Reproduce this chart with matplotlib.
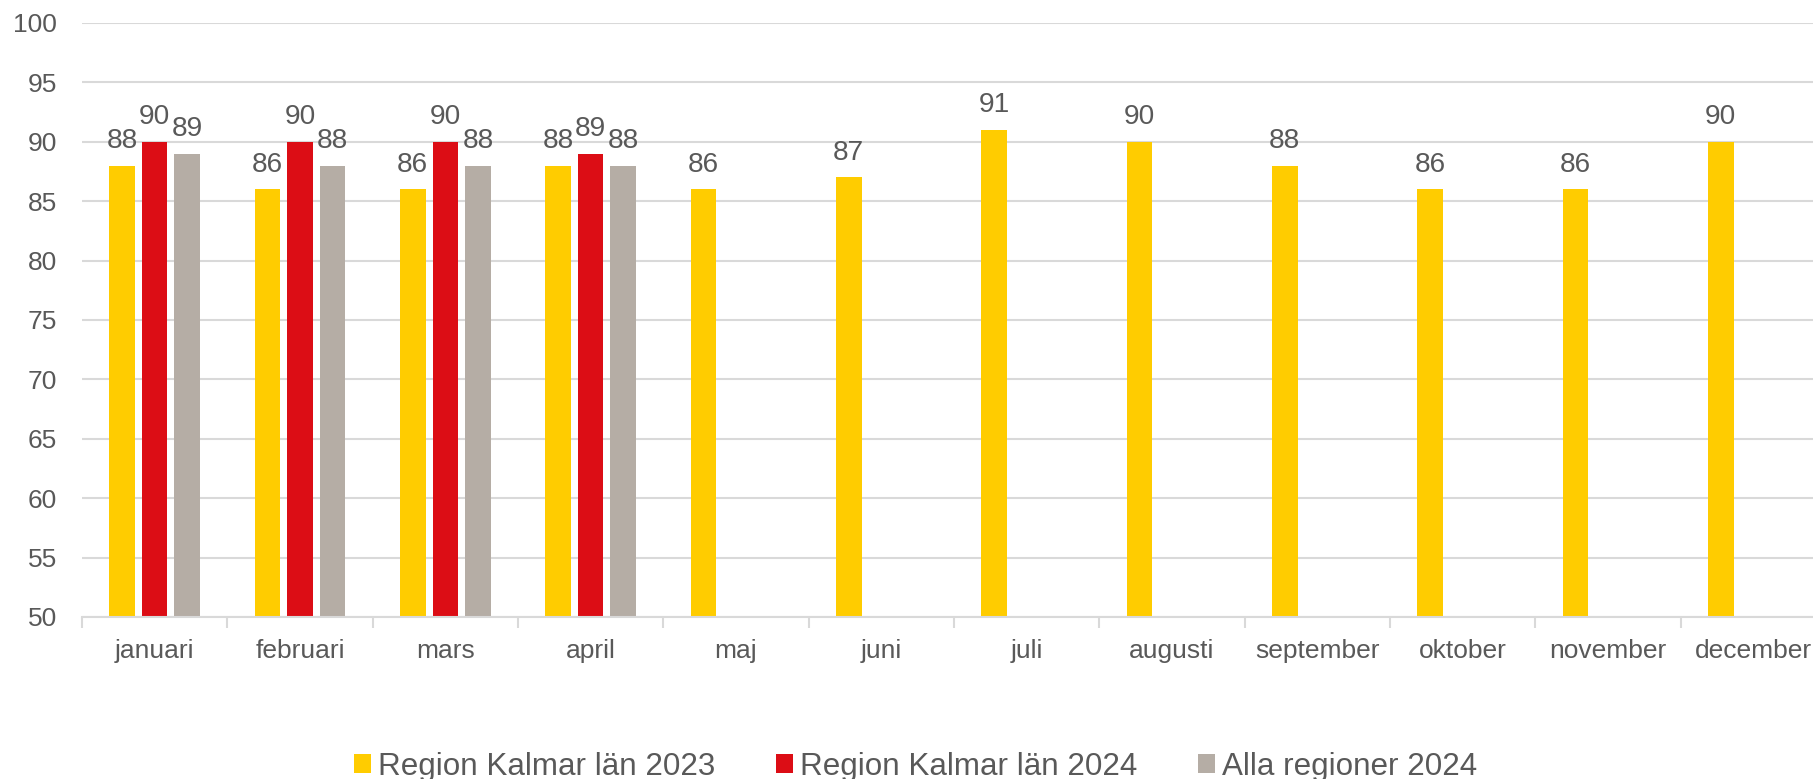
import matplotlib
matplotlib.use("Agg")
import matplotlib.pyplot as plt
import numpy as np

months = ["januari", "februari", "mars", "april", "maj", "juni", "juli",
          "augusti", "september", "oktober", "november", "december"]
kalmar_2023 = [88, 86, 86, 88, 86, 87, 91, 90, 88, 86, 86, 90]
kalmar_2024 = [90, 90, 90, 89]
alla_2024 = [89, 88, 88, 88]
series_names = ["Region Kalmar län 2023", "Region Kalmar län 2024", "Alla regioner 2024"]
colors = ["#FFCC00", "#DC0D15", "#B5ADA5"]
text_color = "#595959"
grid_color = "#D9D9D9"

plt.rcParams["font.family"] = ["Liberation Sans", "DejaVu Sans"]

fig = plt.figure(figsize=(18.13, 7.79), dpi=100)
ax = fig.add_axes([82/1813, 1-617/779, (1826-82)/1813, (617-23)/779])

x = np.arange(len(months))
w = 0.1755
step = 0.224
series = [kalmar_2023, kalmar_2024, alla_2024]
offsets = [-step, 0, step]
handles = []
for vals, off, c, name in zip(series, offsets, colors, series_names):
    xs = x[:len(vals)] + off
    b = ax.bar(xs, np.array(vals) - 50, width=w, bottom=50, color=c, label=name, zorder=3)
    handles.append(b)
    for xi, v in zip(xs, vals):
        ax.annotate(str(v), (xi, v), xytext=(0, 8.5), textcoords="offset points",
                    ha="center", va="bottom", fontsize=20.2, color=text_color)

ax.set_xlim(-0.5, len(months) - 0.5)
ax.set_ylim(50, 100)
ax.set_yticks(np.arange(50, 101, 5))
ax.yaxis.grid(True, color=grid_color, linewidth=1.5, zorder=0)
ax.set_axisbelow(True)
ax.tick_params(axis="y", length=0, pad=18, labelsize=19, labelcolor=text_color)

ax.set_xticks(x)
ax.set_xticklabels(months)
ax.tick_params(axis="x", which="major", length=0, pad=15.5, labelsize=19, labelcolor=text_color)
ax.set_xticks(np.arange(-0.5, len(months) + 0.5, 1), minor=True)
ax.tick_params(axis="x", which="minor", length=8, width=1.5, color=grid_color)

for s in ["top", "right", "left"]:
    ax.spines[s].set_visible(False)
ax.spines["bottom"].set_color(grid_color)
ax.spines["bottom"].set_linewidth(1.5)
ax.spines["bottom"].set_zorder(4)

fig.legend(handles=handles, labels=series_names, loc="center", bbox_to_anchor=(0.505, 1-767/779),
           ncol=3, frameon=False, fontsize=22.6, labelcolor=text_color,
           handlelength=0.55, handleheight=0.55, handletextpad=0.2, columnspacing=1.95)

fig.savefig("out.png", dpi=100)
